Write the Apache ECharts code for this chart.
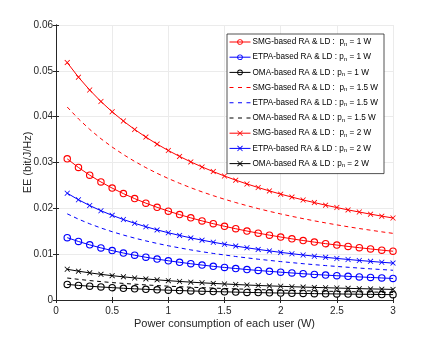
<!DOCTYPE html>
<html>
<head>
<meta charset="utf-8">
<script src="https://cdn.jsdelivr.net/npm/echarts@6/dist/echarts.min.js"></script>
<style>
  html, body { margin: 0; padding: 0; background: #fff; }
  #eeChart { width: 436px; height: 338px; }
</style>
</head>
<body>
<div id="eeChart"></div>
<script>
// user power consumption (W)
var xs = [0.1, 0.2, 0.3, 0.4, 0.5, 0.6, 0.7, 0.8, 0.9, 1.0,
          1.1, 1.2, 1.3, 1.4, 1.5, 1.6, 1.7, 1.8, 1.9, 2.0,
          2.1, 2.2, 2.3, 2.4, 2.5, 2.6, 2.7, 2.8, 2.9, 3.0];

var xTicks = [0, 0.5, 1, 1.5, 2, 2.5, 3];
var yTicks = [0, 0.01, 0.02, 0.03, 0.04, 0.05, 0.06];

// EE (bit/J/Hz)
var smg1 = [0.0308, 0.02891, 0.02724, 0.02575, 0.02441, 0.02321, 0.02212, 0.02113, 0.02022, 0.01939,
            0.01863, 0.01792, 0.01726, 0.01665, 0.01608, 0.01555, 0.01505, 0.01459, 0.01415, 0.01374,
            0.01335, 0.01298, 0.01263, 0.01230, 0.01199, 0.01169, 0.01141, 0.01114, 0.01088, 0.01064];
var etpa1 = [0.0136, 0.01277, 0.01203, 0.01137, 0.01078, 0.01025, 0.00977, 0.00933, 0.00893, 0.00856,
             0.00823, 0.00791, 0.00762, 0.00735, 0.00710, 0.00687, 0.00665, 0.00644, 0.00625, 0.00607,
             0.00590, 0.00573, 0.00558, 0.00543, 0.00530, 0.00516, 0.00504, 0.00492, 0.00481, 0.00470];
var oma1 = [0.0034, 0.00319, 0.00301, 0.00284, 0.00270, 0.00256, 0.00244, 0.00233, 0.00223, 0.00214,
            0.00206, 0.00198, 0.00191, 0.00184, 0.00178, 0.00172, 0.00166, 0.00161, 0.00156, 0.00152,
            0.00147, 0.00143, 0.00139, 0.00136, 0.00132, 0.00129, 0.00126, 0.00123, 0.00120, 0.00117];
var smg15 = [0.0421, 0.03952, 0.03723, 0.03519, 0.03337, 0.03173, 0.03024, 0.02888, 0.02764, 0.02650,
             0.02546, 0.02449, 0.02359, 0.02276, 0.02198, 0.02126, 0.02058, 0.01994, 0.01934, 0.01878,
             0.01825, 0.01775, 0.01727, 0.01682, 0.01639, 0.01598, 0.01559, 0.01523, 0.01487, 0.01454];
var etpa15 = [0.0188, 0.01764, 0.01662, 0.01571, 0.01490, 0.01417, 0.01350, 0.01290, 0.01234, 0.01183,
              0.01137, 0.01093, 0.01053, 0.01016, 0.00982, 0.00949, 0.00919, 0.00890, 0.00864, 0.00838,
              0.00815, 0.00792, 0.00771, 0.00751, 0.00732, 0.00714, 0.00696, 0.00680, 0.00664, 0.00649];
var oma15 = [0.0048, 0.00451, 0.00424, 0.00401, 0.00380, 0.00362, 0.00345, 0.00329, 0.00315, 0.00302,
             0.00290, 0.00279, 0.00269, 0.00260, 0.00251, 0.00242, 0.00235, 0.00227, 0.00221, 0.00214,
             0.00208, 0.00202, 0.00197, 0.00192, 0.00187, 0.00182, 0.00178, 0.00174, 0.00170, 0.00166];
var smg2 = [0.0518, 0.04862, 0.04581, 0.04330, 0.04106, 0.03904, 0.03721, 0.03554, 0.03401, 0.03261,
            0.03133, 0.03013, 0.02903, 0.02801, 0.02705, 0.02615, 0.02532, 0.02454, 0.02380, 0.02310,
            0.02245, 0.02183, 0.02125, 0.02069, 0.02017, 0.01966, 0.01919, 0.01873, 0.01830, 0.01789];
var etpa2 = [0.0233, 0.02187, 0.02061, 0.01948, 0.01847, 0.01756, 0.01674, 0.01599, 0.01530, 0.01467,
             0.01409, 0.01355, 0.01306, 0.01260, 0.01217, 0.01176, 0.01139, 0.01104, 0.01071, 0.01039,
             0.01010, 0.00982, 0.00956, 0.00931, 0.00907, 0.00884, 0.00863, 0.00843, 0.00823, 0.00805];
var oma2 = [0.0067, 0.00629, 0.00592, 0.00560, 0.00531, 0.00505, 0.00481, 0.00460, 0.00440, 0.00422,
            0.00405, 0.00390, 0.00375, 0.00362, 0.00350, 0.00338, 0.00327, 0.00317, 0.00308, 0.00299,
            0.00290, 0.00282, 0.00275, 0.00268, 0.00261, 0.00254, 0.00248, 0.00242, 0.00237, 0.00231];

var RED = '#ff0000', BLUE = '#0000ff', BLACK = '#000000';
var CROSS = 'path://M1,0L5,4L9,0L10,1L6,5L10,9L9,10L5,6L1,10L0,9L4,5L0,1Z';
// hollow ring, the line shows through like a matlab 'o' marker
var RING = 'path://M5,0A5,5,0,1,1,4.999,0ZM5,1.5A3.5,3.5,0,1,0,5.001,1.5Z';
// legend icon for the dashed curves: three short dashes in a 21x7 box
var DASH_ICON = 'path://M0,3h4v1h-4zM8.5,3h4v1h-4zM17,3h4v1h-4zM10,0h0.01v0.01h-0.01zM10,7h0.01v-0.01h-0.01z';
var FONT = '"Liberation Sans", Arial, sans-serif';
var AXIS_COL = '#262626';

function pairs(ys) {
  return xs.map(function (x, i) { return [x, ys[i]]; });
}

function makeSeries(name, ys, color, kind) {
  var s = {
    name: name,
    type: 'line',
    data: pairs(ys),
    animation: false,
    lineStyle: { color: color, width: 1 },
    itemStyle: { color: color },
    emphasis: { disabled: true }
  };
  if (kind === 'circle') {
    s.symbol = RING;
    s.symbolSize = 7.5;
  } else if (kind === 'cross') {
    s.symbol = CROSS;
    s.symbolSize = 5.5;
  } else {
    s.symbol = 'none';
    s.lineStyle.type = [4, 3.5];
  }
  s.kind = kind;
  return s;
}

var series = [
  makeSeries('SMG-based RA & LD :  p_n = 1 W', smg1, RED, 'circle'),
  makeSeries('ETPA-based RA & LD : p_n = 1 W', etpa1, BLUE, 'circle'),
  makeSeries('OMA-based RA & LD : p_n = 1 W', oma1, BLACK, 'circle'),
  makeSeries('SMG-based RA & LD :  p_n = 1.5 W', smg15, RED, 'dash'),
  makeSeries('ETPA-based RA & LD : p_n = 1.5 W', etpa15, BLUE, 'dash'),
  makeSeries('OMA-based RA & LD : p_n = 1.5 W', oma15, BLACK, 'dash'),
  makeSeries('SMG-based RA & LD :  p_n = 2 W', smg2, RED, 'cross'),
  makeSeries('ETPA-based RA & LD : p_n = 2 W', etpa2, BLUE, 'cross'),
  makeSeries('OMA-based RA & LD : p_n = 2 W', oma2, BLACK, 'cross')
];

var legendData = series.map(function (s) {
  var item = { name: s.name };
  if (s.kind === 'dash') item.icon = DASH_ICON;
  delete s.kind;
  return item;
});

var axisCommon = {
  axisLine: { show: true, lineStyle: { color: AXIS_COL, width: 1 } },
  axisTick: { show: true, inside: true, length: 3, lineStyle: { color: AXIS_COL } },
  splitLine: { show: false }
};

var option = {
  backgroundColor: '#fff',
  animation: false,
  grid: { left: 56, right: 43, top: 25, bottom: 38 },
  legend: {
    orient: 'vertical',
    left: 227,
    top: 34,
    itemWidth: 21,
    itemHeight: 7,
    itemGap: 6.2,
    padding: [4, 6, 5, 2],
    backgroundColor: '#fff',
    borderColor: '#262626',
    borderWidth: 0.8,
    lineStyle: { width: 1 },
    data: legendData,
    formatter: function (name) {
      var parts = name.split('p_n');
      return parts[0] + 'p{s|n}' + parts[1];
    },
    textStyle: {
      fontFamily: FONT,
      fontSize: 8.2,
      color: '#000',
      padding: [0, 0, 0, -3],
      rich: {
        s: { fontFamily: FONT, fontSize: 6, color: '#000', padding: [4, 0, 0, 0] }
      }
    }
  },
  xAxis: [
    Object.assign({
      type: 'value', min: 0, max: 3, interval: 0.5,
      name: 'Power consumption of each user (W)',
      nameLocation: 'middle', nameGap: 18, nameMoveOverlap: false,
      nameTextStyle: { fontFamily: FONT, fontSize: 11, color: AXIS_COL },
      axisLabel: { fontFamily: FONT, fontSize: 10, color: AXIS_COL, margin: 6,
        formatter: function (v) { return String(v); } },
      splitLine: { show: true, lineStyle: { color: '#ebebeb', width: 1 } }
    }, { axisLine: axisCommon.axisLine, axisTick: axisCommon.axisTick }),
    Object.assign({
      type: 'value', min: 0, max: 3, interval: 0.5, position: 'top',
      axisLabel: { show: false }
    }, axisCommon)
  ],
  yAxis: [
    Object.assign({
      type: 'value', min: 0, max: 0.06, interval: 0.01,
      name: 'EE (bit/J/Hz)',
      nameLocation: 'middle', nameGap: 23, nameRotate: 90, nameMoveOverlap: false,
      nameTextStyle: { fontFamily: FONT, fontSize: 11, color: AXIS_COL },
      axisLabel: { fontFamily: FONT, fontSize: 10, color: AXIS_COL, margin: 3,
        formatter: function (v) { return String(Math.round(v * 100) / 100); } },
      splitLine: { show: true, lineStyle: { color: '#ebebeb', width: 1 } }
    }, { axisLine: axisCommon.axisLine, axisTick: axisCommon.axisTick }),
    Object.assign({
      type: 'value', min: 0, max: 0.06, interval: 0.01, position: 'right',
      axisLabel: { show: false }
    }, axisCommon)
  ],
  series: series
};

var myChart = echarts.init(document.querySelector('#eeChart'));
myChart.setOption(option);
</script>
</body>
</html>
